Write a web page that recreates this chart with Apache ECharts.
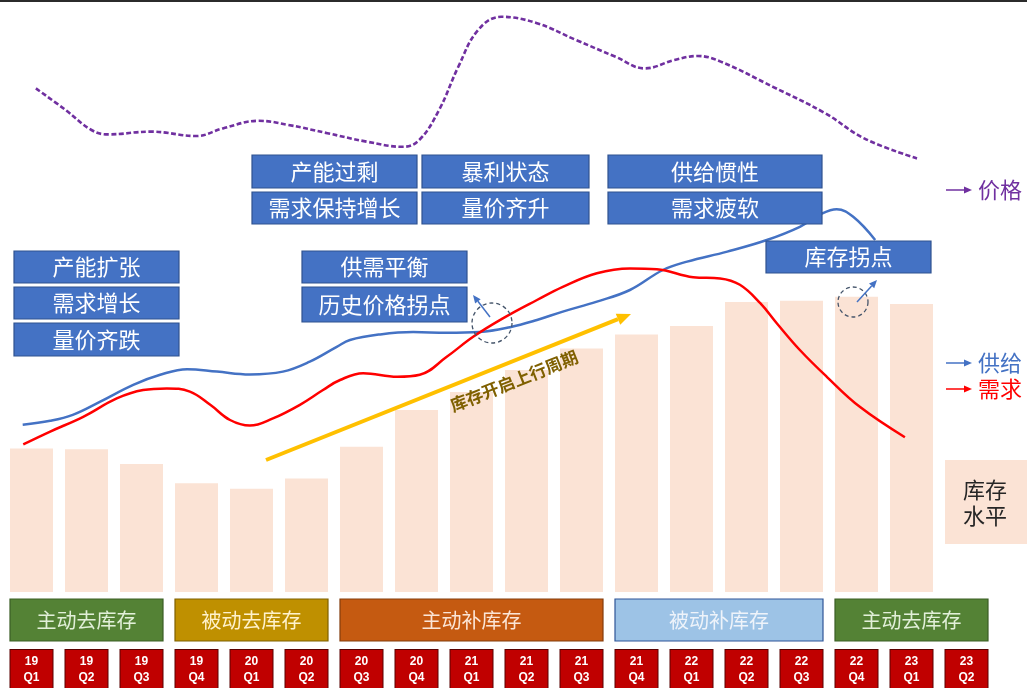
<!DOCTYPE html>
<html><head><meta charset="utf-8">
<script src="https://cdn.jsdelivr.net/npm/echarts/dist/echarts.min.js"></script>
<style>html,body{margin:0;padding:0;background:#fff}#c{width:1027px;height:688px}</style>
</head><body><div id="c"></div>
<script>
// ---- data ----
const categories = ['19Q1','19Q2','19Q3','19Q4','20Q1','20Q2','20Q3','20Q4','21Q1','21Q2','21Q3','21Q4','22Q1','22Q2','22Q3','22Q4','23Q1','23Q2'];
const inventory = [35.9,35.7,32,27.2,25.8,28.4,36.3,45.5,50,55.5,60.9,64.4,66.5,72.5,72.8,73.8,72,null];
// [quarter index (fractional), level]
const supply = [[-0.16,41.8],[0.34,42.8],[0.75,44.3],[1.25,47.6],[1.85,51.8],[2.34,54.3],[2.83,55.7],[3.37,55.1],[3.97,54.4],[4.57,55.1],[5.06,57.6],[5.55,61.3],[5.79,63],[6.34,64.4],[6.94,65],[7.55,64.8],[8.15,65],[8.7,66.2],[9.19,68],[9.66,70.1],[10.28,72.6],[10.88,75.5],[11.48,80.5],[11.92,82.6],[12.65,85.1],[13.37,88],[13.97,91.3],[14.33,94.3],[14.64,95.7],[14.94,93.8],[15.34,88]];
const demand = [[-0.15,36.9],[0.34,40.1],[0.94,43.8],[1.55,48.4],[2.03,50.5],[2.46,50.9],[2.88,50.1],[3.25,46.8],[3.61,43],[3.97,41.6],[4.39,43.4],[4.88,46.8],[5.3,50.5],[5.61,53],[6.03,54.7],[6.65,53.8],[7.06,54.3],[7.55,58.8],[8.03,63.8],[8.57,68.4],[9.19,73],[9.66,76.3],[10.28,79.7],[10.88,80.9],[11.37,80.7],[12.03,78.7],[12.52,78.4],[12.88,76.8],[13.25,72.2],[13.55,67.2],[13.97,60.5],[14.46,53.8],[15.06,46.3],[15.88,38.7]];
const price = [[0.08,125.9],[0.62,120.5],[1.09,115.5],[1.39,114.4],[2.17,115.1],[3.0,114],[3.48,115.9],[4.13,117.8],[4.66,116.8],[5.38,114.7],[6.09,112.6],[6.75,111.3],[7.05,113],[7.41,120.5],[7.76,131.3],[8.12,140.5],[8.54,143.8],[9.19,142.2],[9.9,138],[10.62,133.8],[11.15,130.9],[11.69,133],[12.11,134],[12.53,132.6],[13.48,126.3],[14.43,119.7],[15.14,113.4],[16.1,108.4]];
const phaseNames = ['主动去库存','被动去库存','主动补库存','被动补库存','主动去库存'];
const phaseFrom = [0,3,6,11,15];
const phaseTo = [2,5,10,14,17];
const notes = ['产能扩张','需求增长','量价齐跌','供需平衡','历史价格拐点','产能过剩','需求保持增长','暴利状态','量价齐升','供给惯性','需求疲软','库存拐点'];
const legendNames = ['价格','供给','需求'];

// ---- styles / layout ----
const FONT = '"Noto Sans CJK SC","Noto Sans",sans-serif';
const phaseStyle = [
  {fill:'#548235', stroke:'#3B5E25', text:'#E2F0D9'},
  {fill:'#BF9000', stroke:'#7F6000', text:'#FFF2CC'},
  {fill:'#C55A11', stroke:'#843C0C', text:'#FBE5D6'},
  {fill:'#9DC3E6', stroke:'#2F5597', text:'#EEF3FA'},
  {fill:'#548235', stroke:'#3B5E25', text:'#E2F0D9'}
];
const noteBoxes = [
  [14,251,165,32],[14,287,165,32],[14,323,165,33],
  [302,251,165,32],[302,287,165,35],
  [252,155,165,33],[252,192,165,32],
  [422,155,167,33],[422,192,167,32],
  [608,155,214,33],[608,192,214,32],
  [766,241,165,32]
];

const chart = echarts.init(document.getElementById('c'));

function arrow(x1,y1,x2,y2,color,w,hl,hw){
  const dx=x2-x1, dy=y2-y1, L=Math.sqrt(dx*dx+dy*dy), ux=dx/L, uy=dy/L;
  const bx=x2-ux*hl, by=y2-uy*hl;
  return [
    {type:'line', z:100, shape:{x1:x1,y1:y1,x2:bx,y2:by}, style:{stroke:color,lineWidth:w}},
    {type:'polygon', z:100, shape:{points:[[x2,y2],[bx-uy*hw/2,by+ux*hw/2],[bx+uy*hw/2,by-ux*hw/2]]}, style:{fill:color}}
  ];
}

const option = {
  animation:false,
  grid:{left:4,right:33,top:0,bottom:96,outerBoundsMode:'none',containLabel:false},
  xAxis:[
    {type:'category', data:categories, boundaryGap:true,
     axisLine:{show:false}, axisTick:{show:false}, splitLine:{show:false},
     axisLabel:{interval:0, margin:58, formatter:v=>v.slice(0,2)+'\n'+v.slice(2),
       color:'#fff', fontWeight:'bold', fontSize:12, fontFamily:'"Liberation Sans",Arial,sans-serif',
       lineHeight:16, backgroundColor:'#C00000', borderColor:'#5a0000', borderWidth:1,
       width:42, align:'center', padding:[4,0,10,0]}},
    {type:'value', min:-0.5, max:17.5, show:false}
  ],
  yAxis:{type:'value', min:0, max:148, show:false},
  series:[
    {type:'bar', data:inventory, barWidth:43, itemStyle:{color:'#FBE3D5'}, z:1},
    {type:'line', xAxisIndex:1, data:supply, smooth:0.4, showSymbol:false, lineStyle:{color:'#4472C4',width:2.5}, z:3},
    {type:'line', xAxisIndex:1, data:demand, smooth:0.4, showSymbol:false, lineStyle:{color:'#FF0000',width:2.5}, z:3},
    {type:'line', xAxisIndex:1, data:price, smooth:0.4, showSymbol:false, lineStyle:{color:'#7030A0',width:2.6,type:[5,2.5]}, z:3}
  ]
};
chart.setOption(option);

const els = [];
els.push({type:'line', z:100, shape:{x1:0,y1:1,x2:1027,y2:1}, style:{stroke:'#2b2b2b',lineWidth:2}});
// annotation boxes
notes.forEach((t,i)=>{
  const b = noteBoxes[i];
  els.push({type:'rect', z:100, shape:{x:b[0],y:b[1],width:b[2],height:b[3]}, style:{fill:'#4472C4',stroke:'#2F528F',lineWidth:1.2}});
  els.push({type:'text', z:101, x:b[0]+b[2]/2, y:b[1]+b[3]/2, style:{text:t, fill:'#fff', font:'22px '+FONT, align:'center', verticalAlign:'middle'}});
});
// phase boxes from category positions
phaseNames.forEach((n,i)=>{
  const x1 = chart.convertToPixel({xAxisIndex:1}, phaseFrom[i]) - 21.5;
  const x2 = chart.convertToPixel({xAxisIndex:1}, phaseTo[i]) + 21.5;
  const s = phaseStyle[i];
  els.push({type:'rect', z:100, shape:{x:x1,y:599,width:x2-x1,height:42}, style:{fill:s.fill,stroke:s.stroke,lineWidth:1.2}});
  els.push({type:'text', z:101, x:(x1+x2)/2, y:620, style:{text:n, fill:s.text, font:'20px '+FONT, align:'center', verticalAlign:'middle'}});
});
// dashed circles + arrows
els.push({type:'circle', z:100, shape:{cx:492,cy:323,r:20}, style:{fill:null,stroke:'#44546A',lineWidth:1.3,lineDash:[4,3]}});
els.push({type:'circle', z:100, shape:{cx:853,cy:302,r:15}, style:{fill:null,stroke:'#44546A',lineWidth:1.3,lineDash:[4,3]}});
els.push(...arrow(490,317,473,295,'#4472C4',1.5,8,7));
els.push(...arrow(857,302,877,280,'#4472C4',1.5,8,7));
// yellow trend arrow
els.push(...arrow(266,460,631,314,'#FFC000',4,14,12));
els.push({type:'text', z:101, x:514, y:381, rotation:Math.atan2(146,365), style:{text:'库存开启上行周期', fill:'#7F6000', font:'bold 17px '+FONT, align:'center', verticalAlign:'middle'}});
// right legend
const legColors = ['#7030A0','#4472C4','#FF0000'];
const legY = [190,363,389];
legendNames.forEach((n,i)=>{
  els.push(...arrow(946,legY[i],972,legY[i],legColors[i],1.5,8,7));
  els.push({type:'text', z:101, x:978, y:legY[i], style:{text:n, fill:legColors[i], font:'22px '+FONT, align:'left', verticalAlign:'middle'}});
});
els.push({type:'rect', z:100, shape:{x:945,y:460,width:82,height:84}, style:{fill:'#FBE3D5'}});
els.push({type:'text', z:101, x:985, y:503, style:{text:'库存\n水平', fill:'#262626', font:'22px '+FONT, lineHeight:26, align:'center', verticalAlign:'middle'}});

chart.setOption({graphic:{elements:els}});
</script>
</body></html>
